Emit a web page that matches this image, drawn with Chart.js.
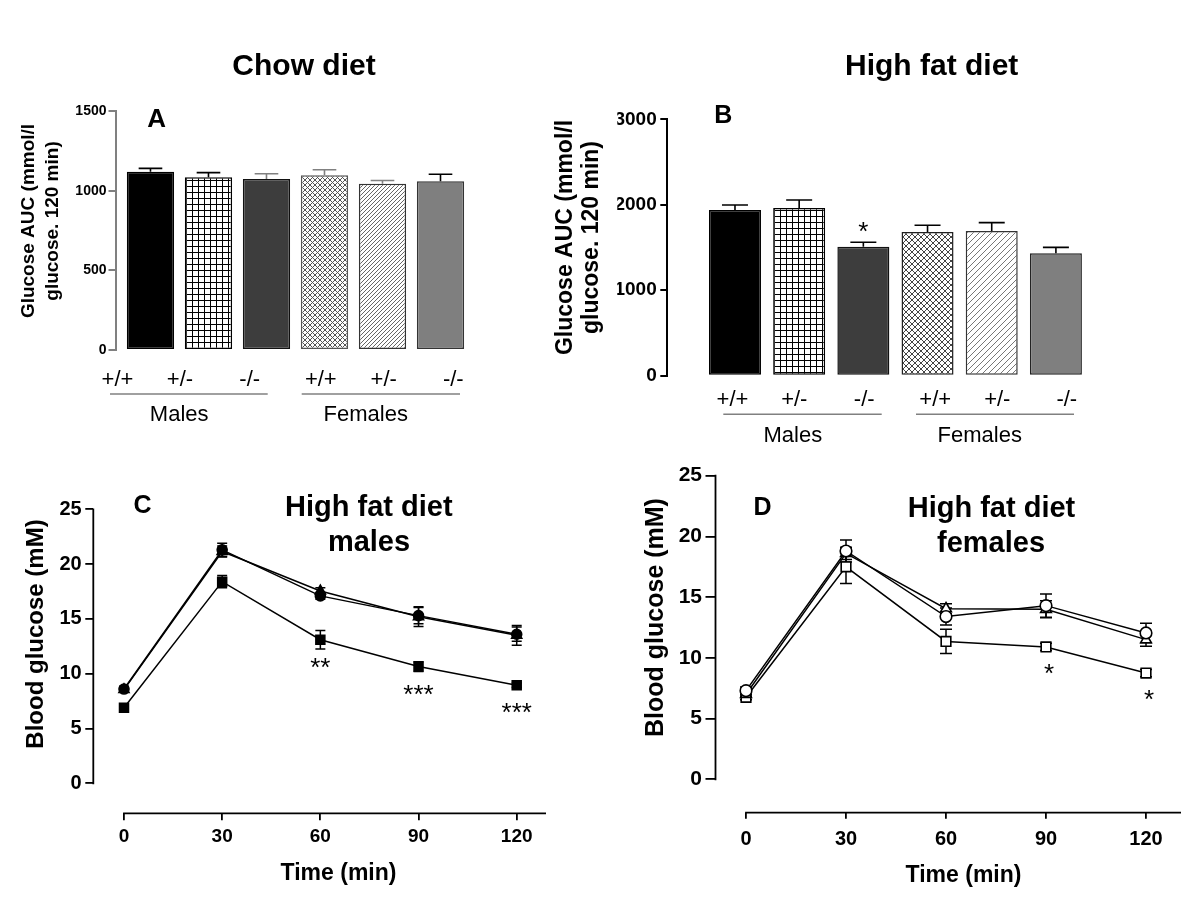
<!DOCTYPE html>
<html>
<head>
<meta charset="utf-8">
<script src="https://cdn.jsdelivr.net/npm/chart.js@4.4.1/dist/chart.umd.min.js"></script>
<style>
html,body{margin:0;padding:0;background:#fff;}
#wrap{position:relative;width:1200px;height:900px;background:#fff;}
#wrap canvas{position:absolute;left:0;top:0;}
</style>
</head>
<body>
<div id="wrap">
<canvas id="cA" width="1200" height="900"></canvas>
<canvas id="cB" width="1200" height="900"></canvas>
<canvas id="cC" width="1200" height="900"></canvas>
<canvas id="cD" width="1200" height="900"></canvas>
</div>
<script>
// ---------------- data ----------------
const genotypes = ['+/+', '+/-', '-/-', '+/+', '+/-', '-/-'];
const groups = ['Males', 'Females'];

// Panel A: chow diet glucose AUC
const chowAUC = [1118, 1084, 1074, 1097, 1044, 1059];
const chowAUCsem = [22, 29, 32, 34, 20, 44];
const chowAUCsig = ['', '', '', '', '', ''];
const chowTicks = [0, 500, 1000, 1500];

// Panel B: high fat diet glucose AUC
const hfdAUC = [1939, 1962, 1510, 1682, 1693, 1432];
const hfdAUCsem = [59, 94, 51, 78, 98, 70];
const hfdAUCsig = ['', '', '*', '', '', ''];
const hfdTicks = [0, 1000, 2000, 3000];

// Panels C/D: glucose tolerance test
const timePoints = [0, 30, 60, 90, 120];
const glucoseTicks = [0, 5, 10, 15, 20, 25];

const maleWT = [8.6, 21.3, 17.1, 15.3, 13.6];
const maleWTsem = [0.25, 0.6, 0.3, 0.75, 0.65];
const maleHet = [8.55, 21.15, 17.55, 15.2, 13.5];
const maleHetSem = [0.2, 0.5, 0.3, 0.9, 0.9];
const maleKO = [6.9, 18.4, 13.1, 10.65, 8.95];
const maleKOsem = [0.2, 0.55, 0.85, 0.45, 0.2];
const maleSig = ['', '', '**', '***', '***'];

const femaleWT = [7.3, 18.8, 13.4, 14.3, 12.05];
const femaleWTsem = [0.3, 0.9, 0.7, 0.95, 0.8];
const femaleHet = [7.0, 18.6, 14.05, 14.0, 11.5];
const femaleHetSem = [0.2, 0.5, 0.4, 0.7, 0.55];
const femaleKO = [6.75, 17.5, 11.35, 10.9, 8.75];
const femaleKOsem = [0.2, 1.37, 1.0, 0.3, 0.3];
const femaleSig = ['', '', '', '*', '*'];

// ---------------- styling helpers ----------------
const FONT = "'Liberation Sans', Arial, Helvetica, sans-serif";
Chart.defaults.font.family = FONT;
Chart.defaults.color = '#000';

function makePattern(kind, step, color) {
  const c = document.createElement('canvas');
  c.width = step; c.height = step;
  const g = c.getContext('2d');
  g.fillStyle = '#fff'; g.fillRect(0, 0, step, step);
  g.strokeStyle = color; g.fillStyle = color; g.lineWidth = 1;
  if (kind === 'grid') {
    g.fillRect(0, 0, step, 1); g.fillRect(0, 0, 1, step);
  } else {
    g.beginPath();
    g.moveTo(0, step); g.lineTo(step, 0);
    g.moveTo(-1, 1); g.lineTo(1, -1);
    g.moveTo(step - 1, step + 1); g.lineTo(step + 1, step - 1);
    if (kind === 'cross') {
      g.moveTo(0, 0); g.lineTo(step, step);
      g.moveTo(-1, step - 1); g.lineTo(1, step + 1);
      g.moveTo(step - 1, -1); g.lineTo(step + 1, 1);
    }
    g.stroke();
  }
  return g.createPattern(c, 'repeat');
}

const textPlugin = {
  id: 'panelText',
  afterDraw(chart, args, o) {
    const ctx = chart.ctx;
    (o.lines || []).forEach(l => {
      ctx.save();
      ctx.strokeStyle = l.color; ctx.lineWidth = l.width;
      ctx.beginPath(); ctx.moveTo(l.x1, l.y); ctx.lineTo(l.x2, l.y); ctx.stroke();
      ctx.restore();
    });
    (o.items || []).forEach(it => {
      ctx.save();
      ctx.font = it.font + ' ' + FONT;
      ctx.fillStyle = it.color || '#000';
      ctx.textAlign = it.align || 'center';
      ctx.textBaseline = it.baseline || 'middle';
      ctx.translate(it.x, it.y);
      if (it.rot) ctx.rotate(it.rot);
      ctx.fillText(it.text, 0, 0);
      ctx.restore();
    });
  }
};

const barErrorPlugin = {
  id: 'barError',
  afterDatasetsDraw(chart, args, o) {
    const ctx = chart.ctx;
    const ys = chart.scales.y;
    const ds = chart.data.datasets[0];
    chart.getDatasetMeta(0).data.forEach((bar, i) => {
      const top = ys.getPixelForValue(ds.data[i].y + ds.sem[i]);
      const half = bar.width * o.capFrac / 2;
      ctx.save();
      ctx.strokeStyle = o.colors[i]; ctx.lineWidth = o.width;
      ctx.beginPath();
      ctx.moveTo(bar.x, bar.y); ctx.lineTo(bar.x, top);
      ctx.moveTo(bar.x - half, top); ctx.lineTo(bar.x + half, top);
      ctx.stroke();
      if (ds.sig && ds.sig[i]) {
        ctx.font = o.sigFont + ' ' + FONT;
        ctx.fillStyle = '#000'; ctx.textAlign = 'center'; ctx.textBaseline = 'alphabetic';
        ctx.fillText(ds.sig[i], bar.x, top - o.sigGap);
      }
      ctx.restore();
    });
  }
};

const lineErrorPlugin = {
  id: 'lineError',
  beforeDatasetsDraw(chart, args, o) {
    const ctx = chart.ctx;
    const ys = chart.scales.y;
    chart.data.datasets.forEach((ds, di) => {
      chart.getDatasetMeta(di).data.forEach((pt, i) => {
        const v = ds.data[i].y, e = ds.sem[i];
        const yt = ys.getPixelForValue(v + e), yb = ys.getPixelForValue(v - e);
        ctx.save();
        ctx.strokeStyle = '#000'; ctx.lineWidth = o.width;
        ctx.beginPath();
        ctx.moveTo(pt.x, yt); ctx.lineTo(pt.x, yb);
        ctx.moveTo(pt.x - o.cap / 2, yt); ctx.lineTo(pt.x + o.cap / 2, yt);
        ctx.moveTo(pt.x - o.cap / 2, yb); ctx.lineTo(pt.x + o.cap / 2, yb);
        ctx.stroke();
        ctx.restore();
      });
    });
  },
  afterDatasetsDraw(chart, args, o) {
    const ctx = chart.ctx;
    chart.data.datasets.forEach((ds, di) => {
      if (!ds.sig) return;
      chart.getDatasetMeta(di).data.forEach((pt, i) => {
        if (!ds.sig[i]) return;
        ctx.save();
        ctx.font = o.sigFont + ' ' + FONT;
        ctx.fillStyle = '#000'; ctx.textAlign = 'center'; ctx.textBaseline = 'alphabetic';
        ctx.fillText(ds.sig[i], pt.x + o.sigDx, pt.y + o.sigDy);
        ctx.restore();
      });
    });
  }
};

const detachedAxes = {
  id: 'detachedAxes',
  afterDraw(chart, args, o) {
    const {ctx, chartArea: ca, scales: {x, y}} = chart;
    ctx.save();
    ctx.strokeStyle = o.color; ctx.lineWidth = o.width;
    ctx.beginPath();
    ctx.moveTo(ca.left, y.getPixelForValue(0) + o.width / 2);
    ctx.lineTo(ca.left, y.getPixelForValue(glucoseTicks[glucoseTicks.length - 1]) - o.width / 2);
    ctx.moveTo(x.getPixelForValue(0) - o.width / 2, ca.bottom);
    ctx.lineTo(ca.right, ca.bottom);
    ctx.stroke();
    ctx.restore();
  }
};

function barPanel(id, means, sems, sig, yTicks, L) {
  const a = L.area, Wy = 50;
  const items = [].concat(L.texts);
  genotypes.forEach((g, i) => items.push({text: g, x: L.genoX[i], y: L.genoY, font: 'normal 22px'}));
  groups.forEach((g, i) => items.push({text: g, x: L.groupX[i], y: L.groupY, font: 'normal 22px'}));
  const lines = L.groupLines.map(p => ({x1: p[0], x2: p[1], y: L.lineY, color: '#808080', width: 1.5}));
  return new Chart(document.getElementById(id), {
    type: 'bar',
    data: {datasets: [{
      label: L.label,
      data: means.map((v, i) => ({x: i + 1, y: v})),
      sem: sems, sig: sig,
      backgroundColor: L.fills, borderColor: L.borders, borderWidth: 1.5, borderSkipped: false,
      categoryPercentage: 1, barPercentage: L.barPct
    }]},
    options: {
      responsive: false, animation: false, devicePixelRatio: 1,
      layout: {padding: {left: a.left - Wy, top: a.top, right: 1200 - a.right, bottom: 900 - a.bottom}},
      plugins: {
        legend: {display: false}, tooltip: {enabled: false},
        barError: {capFrac: 0.5, width: 1.6, colors: L.errColors, sigFont: 'normal 26px', sigGap: 2},
        panelText: {items: items, lines: lines}
      },
      scales: {
        x: {
          type: 'linear', display: false, offset: false, min: L.xmin, max: L.xmax,
          grid: {offset: false},
          afterBuildTicks: s => { s.ticks = means.map((v, i) => ({value: i + 1})); }
        },
        y: {
          type: 'linear', min: 0, max: yTicks[yTicks.length - 1],
          afterBuildTicks: s => { s.ticks = yTicks.map(v => ({value: v})); },
          afterFit: s => { s.width = Wy; },
          border: {display: true, color: L.axisColor, width: 2},
          grid: {display: true, drawOnChartArea: false, drawTicks: true, tickLength: 7, color: L.axisColor, lineWidth: 2},
          ticks: {font: {size: L.tickSize, weight: 'bold', family: FONT}, color: '#000', padding: L.tickPad, callback: v => String(v)}
        }
      }
    },
    plugins: [barErrorPlugin, textPlugin]
  });
}

function linePanel(id, series, L) {
  const a = L.area, Wy = 50, Hx = 50;
  return new Chart(document.getElementById(id), {
    type: 'line',
    data: {datasets: series.map(s => ({
      label: s.label,
      data: timePoints.map((t, i) => ({x: t, y: s.values[i]})),
      sem: s.sem, sig: s.sig,
      borderColor: '#000', borderWidth: 1.5, tension: 0, fill: false,
      pointStyle: s.style, pointRadius: s.radius,
      pointBackgroundColor: L.open ? '#fff' : '#000', pointBorderColor: '#000', pointBorderWidth: 1.6,
      clip: false
    }))},
    options: {
      responsive: false, animation: false, devicePixelRatio: 1,
      layout: {padding: {left: a.left - Wy, top: a.top, right: 1200 - a.right, bottom: 900 - a.bottom - Hx}},
      plugins: {
        legend: {display: false}, tooltip: {enabled: false},
        lineError: {width: 1.5, cap: L.cap, sigFont: 'normal 26px', sigDx: L.sigDx, sigDy: L.sigDy},
        detachedAxes: {color: '#000', width: 1.8},
        panelText: {items: L.texts, lines: []}
      },
      scales: {
        x: {
          type: 'linear', min: L.xmin, max: L.xmax,
          afterBuildTicks: s => { s.ticks = timePoints.map(v => ({value: v})); },
          afterFit: s => { s.height = Hx; },
          border: {display: false},
          grid: {display: true, drawOnChartArea: false, drawTicks: true, tickLength: L.xTickLen, color: '#000', lineWidth: 1.8},
          ticks: {font: {size: L.xTickSize, weight: 'bold', family: FONT}, color: '#000', padding: L.xTickPad, maxRotation: 0, autoSkip: false, callback: v => String(v)}
        },
        y: {
          type: 'linear', min: L.ymin, max: glucoseTicks[glucoseTicks.length - 1],
          afterBuildTicks: s => { s.ticks = glucoseTicks.map(v => ({value: v})); },
          afterFit: s => { s.width = Wy; },
          border: {display: false},
          grid: {display: true, drawOnChartArea: false, drawTicks: true, tickLength: L.yTickLen, color: '#000', lineWidth: 1.8},
          ticks: {font: {size: L.yTickSize, weight: 'bold', family: FONT}, color: '#000', padding: L.yTickPad, callback: v => String(v)}
        }
      }
    },
    plugins: [lineErrorPlugin, detachedAxes, textPlugin]
  });
}

const ROT = -Math.PI / 2;

// ---------- Panel A ----------
barPanel('cA', chowAUC, chowAUCsem, chowAUCsig, chowTicks, {
  label: 'Chow diet glucose AUC',
  area: {left: 115.5, top: 111, right: 469.5, bottom: 350},
  xmin: 0.397, xmax: 6.5, barPct: 0.815,
  fills: ['#000000', makePattern('grid', 6, '#000'), '#3d3d3d', makePattern('cross', 5, '#555'), makePattern('diag', 4, '#666'), '#7f7f7f'],
  borders: ['#000', '#000', '#111', '#555', '#333', '#333'],
  errColors: ['#000', '#000', '#808080', '#808080', '#808080', '#000'],
  axisColor: '#808080', tickSize: 14, tickPad: 2,
  genoX: [117.5, 180, 249.7, 320.8, 383.7, 453.3], genoY: 380,
  groupLines: [[110, 267.7], [301.7, 460]], lineY: 394,
  groupX: [179.2, 365.8], groupY: 415,
  texts: [
    {text: 'Chow diet', x: 304, y: 75, font: 'bold 30px', baseline: 'alphabetic'},
    {text: 'A', x: 156.7, y: 119.5, font: 'bold 26px'},
    {text: 'Glucose AUC (mmol/l', x: 28.5, y: 221, font: 'bold 19px', rot: ROT},
    {text: 'glucose. 120 min)', x: 52.5, y: 221, font: 'bold 19px', rot: ROT}
  ]
});

// ---------- Panel B ----------
barPanel('cB', hfdAUC, hfdAUCsem, hfdAUCsig, hfdTicks, {
  label: 'High fat diet glucose AUC',
  area: {left: 667.3, top: 119.3, right: 1088, bottom: 375.7},
  xmin: -0.0545, xmax: 6.5, barPct: 0.81,
  fills: ['#000000', makePattern('grid', 6, '#000'), '#3d3d3d', makePattern('cross', 6, '#444'), makePattern('diag', 6, '#777'), '#7f7f7f'],
  borders: ['#000', '#000', '#111', '#222', '#333', '#222'],
  errColors: ['#000', '#000', '#000', '#000', '#000', '#000'],
  axisColor: '#000', tickSize: 19, tickPad: 3.6,
  genoX: [732.5, 794.3, 864.2, 935.2, 997.3, 1066.8], genoY: 400,
  groupLines: [[723.3, 881.7], [916, 1074]], lineY: 414.3,
  groupX: [792.8, 979.7], groupY: 435.5,
  texts: [
    {text: 'High fat diet', x: 931.7, y: 75, font: 'bold 30px', baseline: 'alphabetic'},
    {text: 'B', x: 723.3, y: 116.5, font: 'bold 25px'},
    {text: 'Glucose AUC (mmol/l', x: 566, y: 237.5, font: 'bold 23px', rot: ROT},
    {text: 'glucose. 120 min)', x: 592, y: 237.5, font: 'bold 23px', rot: ROT}
  ]
});

// ---------- Panel C ----------
linePanel('cC', [
  {label: '+/+', values: maleWT, sem: maleWTsem, style: 'circle', radius: 5},
  {label: '+/-', values: maleHet, sem: maleHetSem, style: 'triangle', radius: 5.8},
  {label: '-/-', values: maleKO, sem: maleKOsem, sig: maleSig, style: 'rect', radius: 6.3}
], {
  area: {left: 93.3, top: 509.3, right: 546, bottom: 813.3},
  xmin: -9.38, xmax: 128.95, ymin: -2.737, open: false, cap: 10,
  sigDx: 0, sigDy: 36,
  xTickLen: 7, xTickSize: 19, xTickPad: 5,
  yTickLen: 8, yTickSize: 20, yTickPad: 3.6,
  texts: [
    {text: 'C', x: 142.5, y: 506.5, font: 'bold 25px'},
    {text: 'High fat diet', x: 368.8, y: 515.7, font: 'bold 29px', baseline: 'alphabetic'},
    {text: 'males', x: 369, y: 550.7, font: 'bold 29px', baseline: 'alphabetic'},
    {text: 'Blood glucose (mM)', x: 36, y: 634, font: 'bold 24px', rot: ROT},
    {text: 'Time (min)', x: 338.5, y: 874, font: 'bold 23px'}
  ]
});

// ---------- Panel D ----------
linePanel('cD', [
  {label: '+/+', values: femaleWT, sem: femaleWTsem, style: 'circle', radius: 5.8},
  {label: '+/-', values: femaleHet, sem: femaleHetSem, style: 'triangle', radius: 6.2},
  {label: '-/-', values: femaleKO, sem: femaleKOsem, sig: femaleSig, style: 'rect', radius: 6.8}
], {
  area: {left: 715.5, top: 475.7, right: 1181, bottom: 812.7},
  xmin: -9.15, xmax: 130.5, ymin: -2.75, open: true, cap: 12,
  sigDx: 3, sigDy: 35,
  xTickLen: 6, xTickSize: 20, xTickPad: 9,
  yTickLen: 10, yTickSize: 21, yTickPad: 3.5,
  texts: [
    {text: 'D', x: 762.5, y: 508.5, font: 'bold 25px'},
    {text: 'High fat diet', x: 991.5, y: 516.7, font: 'bold 29px', baseline: 'alphabetic'},
    {text: 'females', x: 991, y: 551.7, font: 'bold 29px', baseline: 'alphabetic'},
    {text: 'Blood glucose (mM)', x: 656.5, y: 617.5, font: 'bold 25px', rot: ROT},
    {text: 'Time (min)', x: 963.5, y: 876, font: 'bold 23px'}
  ]
});
</script>
</body>
</html>
